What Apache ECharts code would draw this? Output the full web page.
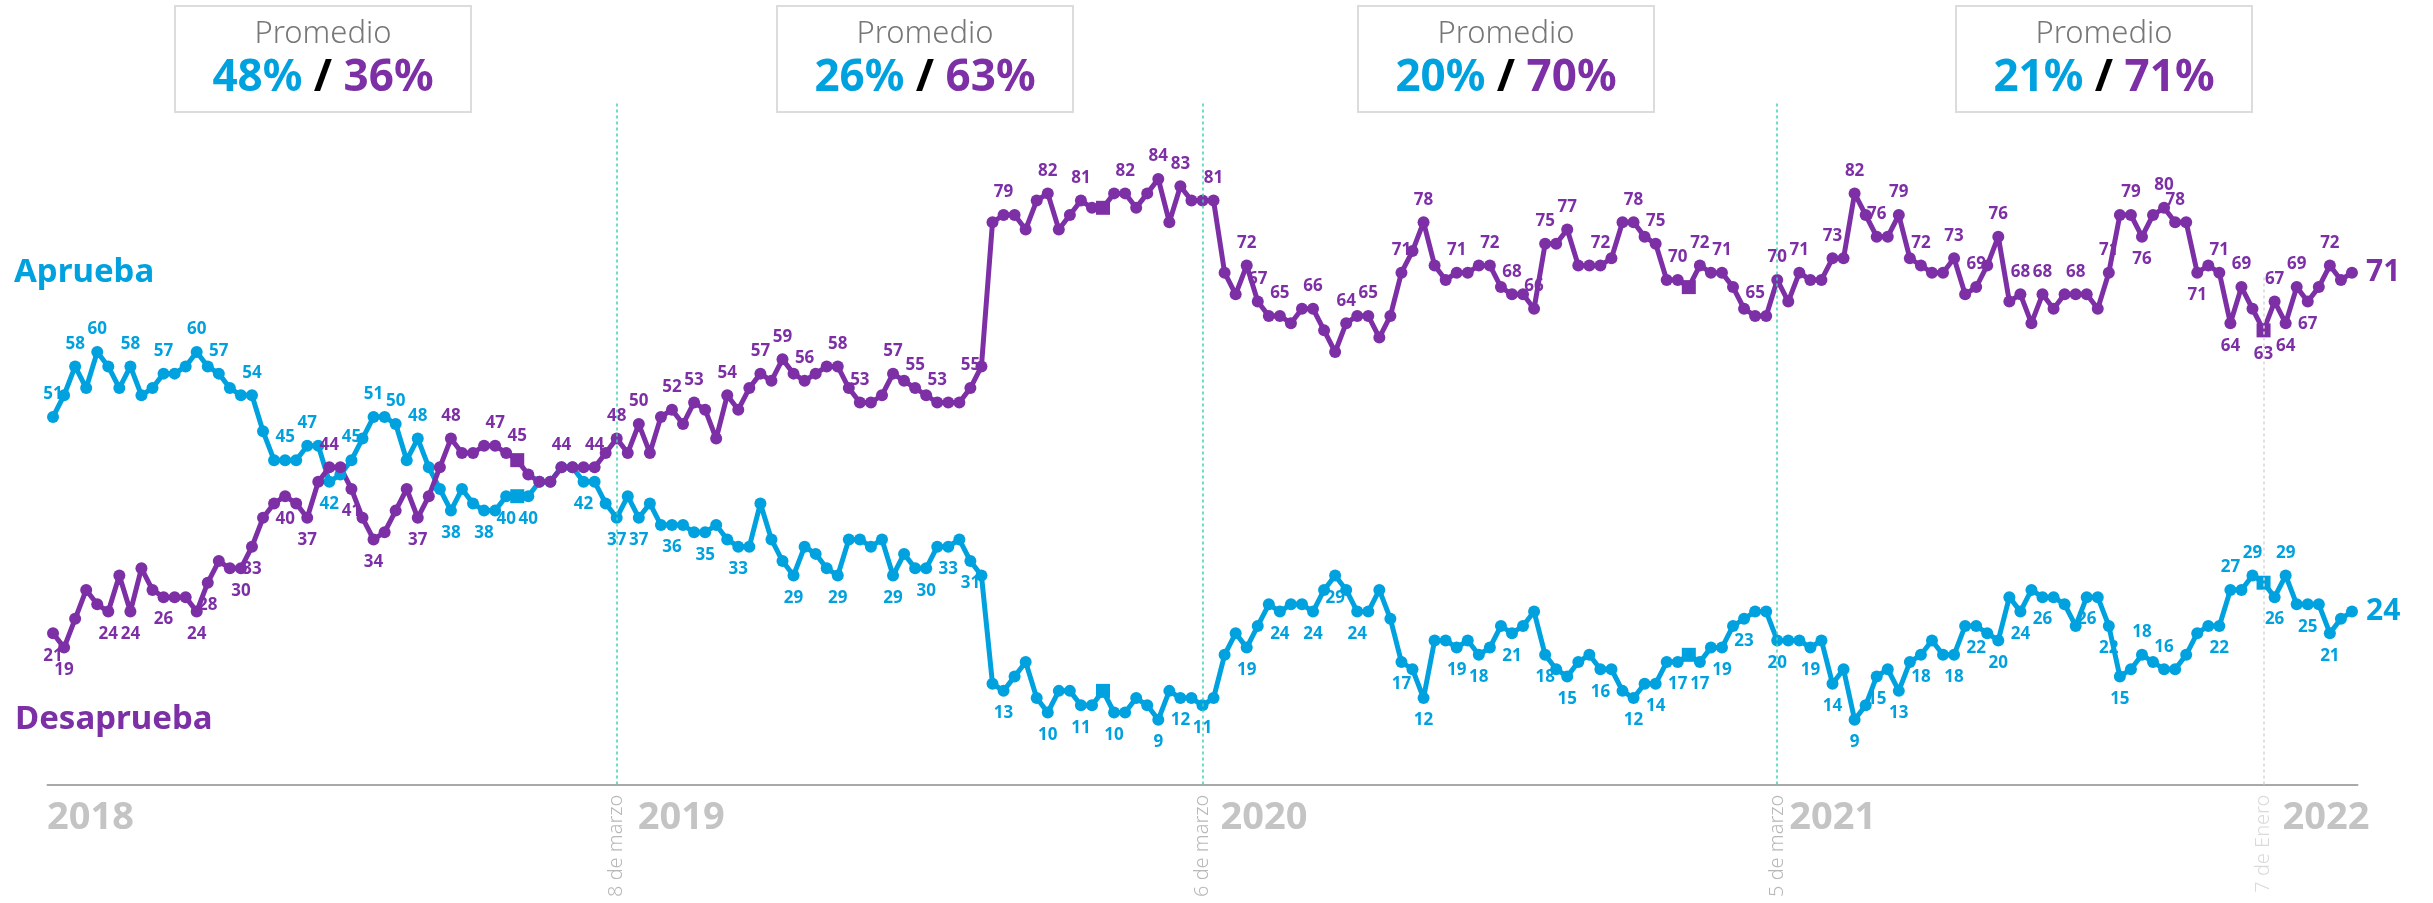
<!DOCTYPE html>
<html>
<head>
<meta charset="utf-8">
<title>Aprueba / Desaprueba</title>
<script src="https://cdn.jsdelivr.net/npm/echarts@6/dist/echarts.min.js"></script>
<style>
    html, body { margin: 0; padding: 0; background: #ffffff; }
    #chart { width: 2433px; height: 903px; }
</style>
</head>
<body>
<div id="chart"></div>
<script>
    // valores semanales (lectura del gráfico)
    var aprueba = [
        51, 54, 58, 55, 60, 58, 55, 58, 54, 55, 57, 57, 58, 60, 58, 57, 55, 54, 54, 49, 45, 45, 45, 47, 47, 42, 43, 45, 48, 51, 51, 50, 45, 48,
        44, 41, 38, 41, 39, 38, 38, 40, 40, 40, 42, 42, 44, 44, 42, 42, 39, 37, 40, 37, 39, 36, 36, 36, 35, 35, 36, 34, 33, 33, 39, 34, 31, 29, 33, 32,
        30, 29, 34, 34, 33, 34, 29, 32, 30, 30, 33, 33, 34, 31, 29, 14, 13, 15, 17, 12, 10, 13, 13, 11, 11, 13, 10, 10, 12, 11, 9, 13, 12, 12, 11, 12,
        18, 21, 19, 22, 25, 24, 25, 25, 24, 27, 29, 27, 24, 24, 27, 23, 17, 16, 12, 20, 20, 19, 20, 18, 19, 22, 21, 22, 24, 18, 16, 15, 17, 18, 16,
        16, 13, 12, 14, 14, 17, 17, 18, 17, 19, 19, 22, 23, 24, 24, 20, 20, 20, 19, 20, 14, 16, 9, 11, 15, 16, 13, 17, 18, 20, 18, 18, 22, 22,
        21, 20, 26, 24, 27, 26, 26, 25, 22, 26, 26, 22, 15, 16, 18, 17, 16, 16, 18, 21, 22, 22, 27, 27, 29, 28, 26, 29, 25, 25, 25, 21, 23, 24
    ];
    var desaprueba = [
        21, 19, 23, 27, 25, 24, 29, 24, 30, 27, 26, 26, 26, 24, 28, 31, 30, 30, 33, 37, 39, 40, 39, 37, 42, 44, 44, 41, 37, 34, 35, 38, 41, 37,
        40, 44, 48, 46, 46, 47, 47, 46, 45, 43, 42, 42, 44, 44, 44, 44, 46, 48, 46, 50, 46, 51, 52, 50, 53, 52, 48, 54, 52, 55, 57, 56, 59, 57, 56, 57,
        58, 58, 55, 53, 53, 54, 57, 56, 55, 54, 53, 53, 53, 55, 58, 78, 79, 79, 77, 81, 82, 77, 79, 81, 80, 80, 82, 82, 80, 82, 84, 78, 83, 81, 81, 81,
        71, 68, 72, 67, 65, 65, 64, 66, 66, 63, 60, 64, 65, 65, 62, 65, 71, 74, 78, 72, 70, 71, 71, 72, 72, 69, 68, 68, 66, 75, 75, 77, 72, 72, 72,
        73, 78, 78, 76, 75, 70, 70, 69, 72, 71, 71, 69, 66, 65, 65, 70, 67, 71, 70, 70, 73, 73, 82, 79, 76, 76, 79, 73, 72, 71, 71, 73, 68, 69,
        72, 76, 67, 68, 64, 68, 66, 68, 68, 68, 66, 71, 79, 79, 76, 79, 80, 78, 78, 71, 72, 71, 64, 69, 66, 63, 67, 64, 69, 67, 69, 72, 70, 71
    ];

    // semanas con etiqueta visible
    var apruebaArriba = [0, 2, 4, 7, 10, 13, 15, 18, 21, 23, 27, 29, 31, 33, 189, 191, 197, 199, 202];
    var apruebaAbajo = [25, 36, 39, 41, 43, 48, 51, 53, 56, 59, 62, 67, 71, 76, 79, 81, 83, 86, 90, 93, 96, 100, 102, 104,
        108, 111, 114, 116, 118, 122, 124, 127, 129, 132, 135, 137, 140, 143, 145, 147, 149, 151, 153, 156, 159, 161,
        163, 165, 167, 169, 172, 174, 176, 178, 180, 184, 186, 187, 196, 201, 204, 206];
    var desapruebaArriba = [25, 36, 40, 42, 46, 49, 51, 53, 56, 58, 61, 64, 66, 68, 71, 73, 76, 78, 80, 83, 86, 90, 93, 97,
        100, 102, 105, 108, 109, 111, 114, 117, 119, 122, 124, 127, 130, 132, 134, 135, 137, 140, 143, 145, 147, 149,
        151, 154, 156, 158, 161, 163, 165, 167, 169, 172, 174, 176, 178, 180, 183, 186, 188, 191, 192, 196, 198, 201, 203, 206];
    var desapruebaAbajo = [0, 1, 5, 7, 10, 13, 14, 17, 18, 21, 23, 27, 29, 33, 189, 194, 197, 200, 202, 204];
    var cuadrados = [42, 95, 148, 200];

    // hitos y años
    var hitos = [51, 104, 156, 200];
    var hitosTexto = ['8 de marzo', '6 de marzo', '5 de marzo', '7 de Enero'];
    var anios = ['2018', '2019', '2020', '2021', '2022'];
    var aniosPos = [0, 51, 104, 156, 200];

    // promedios por período
    var promAprueba = [48, 26, 20, 21];
    var promDesaprueba = [36, 63, 70, 71];

    var AZUL = '#00a1df', MORADO = '#7d2fa6';
    var FONT = "'Noto Sans', sans-serif";

    function armar(vals, arriba, abajo) {
        return vals.map(function (v, i) {
            var item = { value: [i, v] };
            if (cuadrados.indexOf(i) >= 0) {
                item.symbol = 'rect';
                item.symbolSize = 14;
            }
            if (arriba.indexOf(i) >= 0) item.label = { show: true, position: 'top' };
            if (abajo.indexOf(i) >= 0) item.label = { show: true, position: 'bottom' };
            return item;
        });
    }

    function serie(nombre, vals, arriba, abajo, color, extra) {
        var s = {
            name: nombre,
            type: 'line',
            data: armar(vals, arriba, abajo),
            symbol: 'circle',
            symbolSize: 12,
            lineStyle: { width: 5, color: color },
            itemStyle: { color: color },
            label: {
                show: false, color: color, fontFamily: FONT, fontWeight: 'bold', fontSize: 17, distance: 8,
                formatter: function (p) { return p.value[1]; }
            },
            endLabel: {
                show: true, color: color, fontFamily: FONT, fontWeight: 'bold', fontSize: 30, distance: 14,
                formatter: function (p) { return p.value[1]; }
            },
            emphasis: { disabled: true }
        };
        return Object.assign(s, extra || {});
    }

    var chart = echarts.init(document.getElementById('chart'));

    // cajas de promedio
    var cajasX = [323, 925, 1506, 2104];
    var cajas = cajasX.map(function (cx, k) {
        return {
            type: 'group',
            x: cx, y: 0,
            children: [
                { type: 'rect', shape: { x: -148, y: 6, width: 296, height: 106 },
                  style: { fill: '#fff', stroke: '#dcdcdc', lineWidth: 2 } },
                { type: 'text', x: 0, y: 34,
                  style: { text: 'Promedio', font: '300 31px ' + FONT, fill: '#777777',
                           align: 'center', verticalAlign: 'middle', textAlign: 'center', textVerticalAlign: 'middle' } },
                { type: 'text', x: 0, y: 78,
                  style: {
                      text: '{a|' + promAprueba[k] + '%}{s| / }{b|' + promDesaprueba[k] + '%}',
                      align: 'center', verticalAlign: 'middle', textAlign: 'center', textVerticalAlign: 'middle',
                      rich: {
                          a: { fill: AZUL, fontSize: 44, fontWeight: 'bold', fontFamily: FONT },
                          s: { fill: '#000', fontSize: 44, fontWeight: 'bold', fontFamily: FONT },
                          b: { fill: MORADO, fontSize: 44, fontWeight: 'bold', fontFamily: FONT }
                      }
                  } }
            ]
        };
    });

    var etiquetas = [
        { type: 'text', x: 14, y: 273,
          style: { text: 'Aprueba', font: 'bold 33px ' + FONT, fill: AZUL,
                   verticalAlign: 'middle', textVerticalAlign: 'middle' } },
        { type: 'text', x: 15, y: 720,
          style: { text: 'Desaprueba', font: 'bold 33px ' + FONT, fill: MORADO,
                   verticalAlign: 'middle', textVerticalAlign: 'middle' } }
    ];

    var option = {
        animation: false,
        backgroundColor: '#ffffff',
        grid: { left: 47.5, right: 75.5, top: 63.6, bottom: 118.4 },
        xAxis: {
            type: 'value', min: -0.5, max: 208.5,
            axisLine: { show: true, lineStyle: { color: '#a9a9a9', width: 2 } },
            axisTick: { show: false }, axisLabel: { show: false }, splitLine: { show: false }
        },
        yAxis: {
            type: 'value', min: 0, max: 100, show: false, splitLine: { show: false }
        },
        series: [
            serie('Aprueba', aprueba, apruebaArriba, apruebaAbajo, AZUL, {
                markLine: {
                    silent: true, symbol: 'none', label: { show: false },
                    data: hitos.map(function (h, k) {
                        var gris = k === 3;
                        return [
                            { coord: [h, 0], lineStyle: { color: gris ? '#d6d6d6' : '#3fd2b2', width: 1.5, type: [3, 3] } },
                            { coord: [h, gris ? 70.5 : 94.5] }
                        ];
                    })
                }
            }),
            serie('Desaprueba', desaprueba, desapruebaArriba, desapruebaAbajo, MORADO)
        ],
        graphic: cajas.concat(etiquetas)
    };
    chart.setOption(option);

    // años y fechas bajo el eje, ubicados con la escala del eje x
    var ejeY = chart.convertToPixel({ yAxisIndex: 0 }, 0);
    var aniosDx = [-6, 21, 18, 12, 19];
    var extras = [];
    anios.forEach(function (a, k) {
        var px = chart.convertToPixel({ xAxisIndex: 0 }, aniosPos[k]);
        extras.push({
            type: 'text', x: px + aniosDx[k], y: ejeY + 34,
            style: { text: a, font: 'bold 38px ' + FONT, fill: '#c4c4c4',
                     verticalAlign: 'middle', textVerticalAlign: 'middle' }
        });
    });
    hitos.forEach(function (h, k) {
        var px = chart.convertToPixel({ xAxisIndex: 0 }, h);
        extras.push({
            type: 'text', x: px, y: ejeY + 10, rotation: Math.PI / 2,
            style: { text: hitosTexto[k], font: '300 20px ' + FONT, fill: k === 3 ? '#dadada' : '#b8b8b8',
                     align: 'right', verticalAlign: 'middle', textAlign: 'right', textVerticalAlign: 'middle' }
        });
    });
    chart.setOption({ graphic: cajas.concat(etiquetas, extras) });

    window.onresize = function () {
        chart.resize();
    };
</script>
</body>
</html>
